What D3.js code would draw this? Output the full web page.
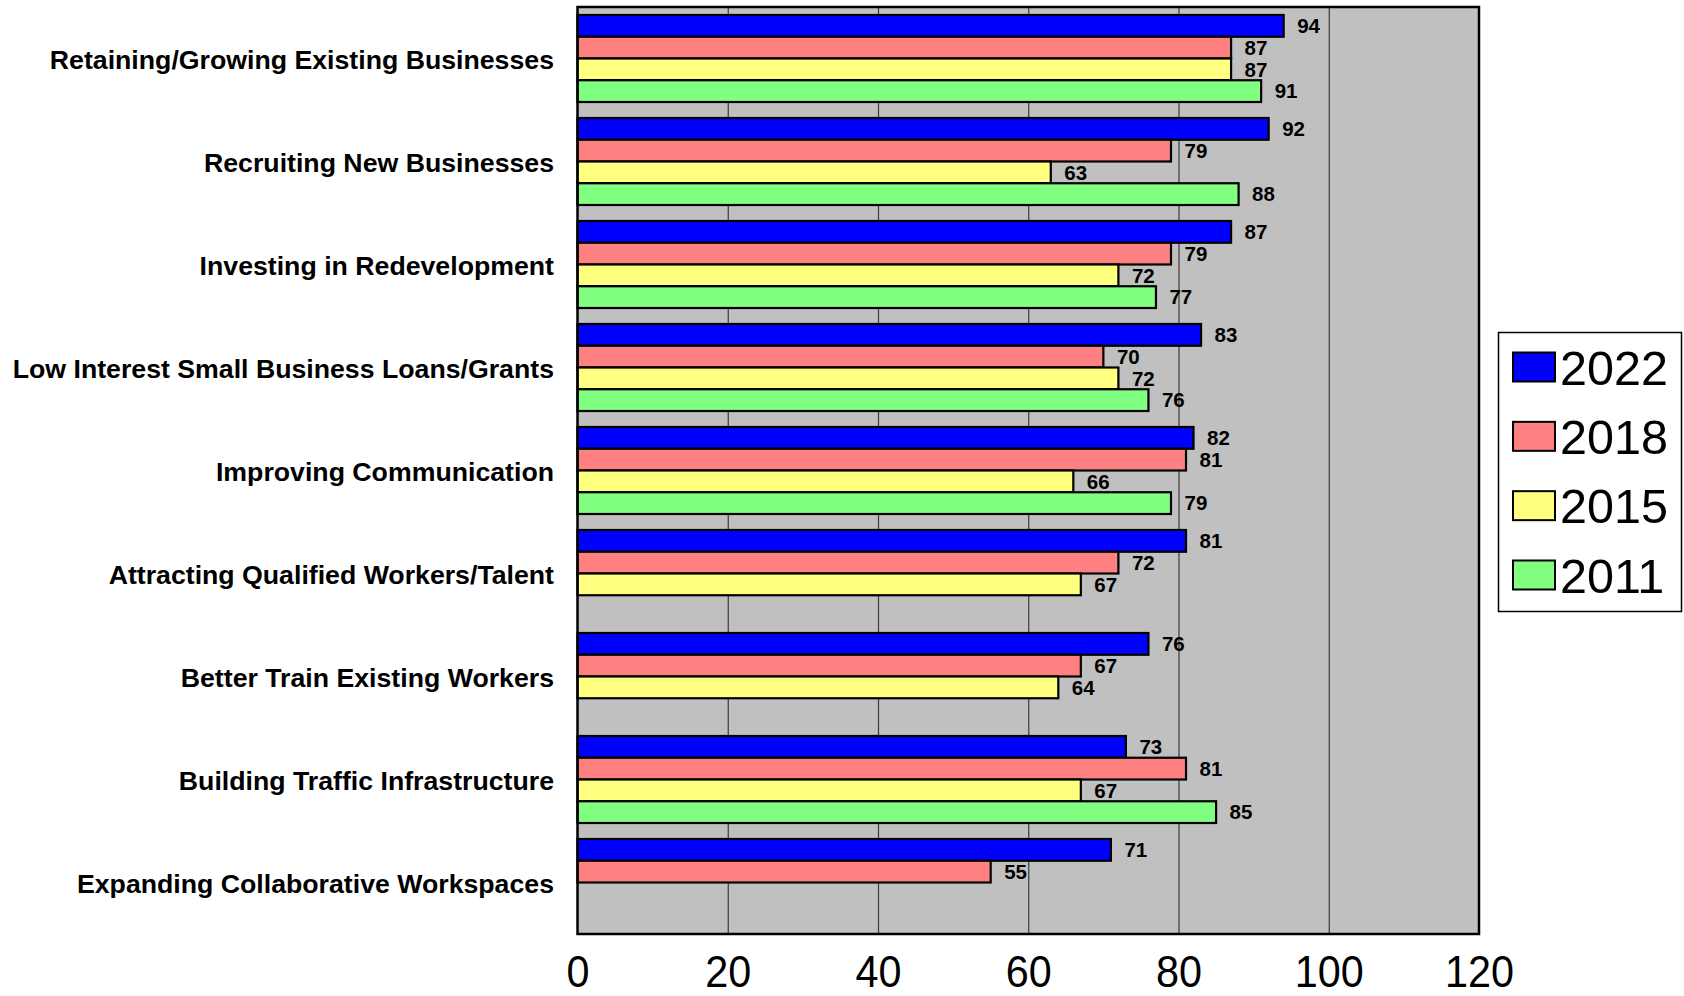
<!DOCTYPE html>
<html>
<head>
<meta charset="utf-8">
<script src="https://cdn.jsdelivr.net/npm/d3@7"></script>
<style>
  html, body { margin: 0; padding: 0; background: #fff; }
  svg { display: block; font-family: "Liberation Sans", Arial, sans-serif; }
</style>
</head>
<body>
<svg width="1684" height="996"></svg>
<script>
"use strict";
const categories = [
    "Retaining/Growing Existing Businesses",
    "Recruiting New Businesses",
    "Investing in Redevelopment",
    "Low Interest Small Business Loans/Grants",
    "Improving Communication",
    "Attracting Qualified Workers/Talent",
    "Better Train Existing Workers",
    "Building Traffic Infrastructure",
    "Expanding Collaborative Workspaces"
];
const years = ["2022", "2018", "2015", "2011"];
const values2022 = [94, 92, 87, 83, 82, 81, 76, 73, 71];
const values2018 = [87, 79, 79, 70, 81, 72, 67, 81, 55];
const values2015 = [87, 63, 72, 72, 66, 67, 64, 67, null];
const values2011 = [91, 88, 77, 76, 79, null, null, 85, null];
const xTicks = [0, 20, 40, 60, 80, 100, 120];
const colors = ["#0000FF", "#FF8080", "#FFFF80", "#80FF80"];

const seriesValues = [values2022, values2018, values2015, values2011];
const rows = [];
categories.forEach((c, i) => {
    years.forEach((yr, j) => {
        if (seriesValues[j][i] !== null) {
            rows.push({ category: c, year: yr, value: seriesValues[j][i] });
        }
    });
});

const svg = d3.select("svg");
const plot = { left: 577.5, right: 1479, top: 7, bottom: 934 };
const plotH = plot.bottom - plot.top;

const x = d3.scaleLinear()
    .domain([0, 120])
    .range([plot.left, plot.right]);
const y0 = d3.scaleBand()
    .domain(categories)
    .range([plot.top, plot.bottom]);
const y1 = d3.scaleBand()
    .domain(years)
    .range([8, y0.bandwidth() - 8]);
const color = d3.scaleOrdinal()
    .domain(years)
    .range(colors);

// plot background
svg.append("rect")
    .attr("x", plot.left)
    .attr("y", plot.top)
    .attr("width", plot.right - plot.left)
    .attr("height", plotH)
    .attr("fill", "#C0C0C0");

// vertical gridlines
svg.append("g")
    .attr("class", "grid")
    .attr("transform", `translate(0, ${plot.bottom})`)
    .call(d3.axisBottom(x)
        .tickValues(xTicks.slice(1, -1))
        .tickSize(-plotH)
        .tickFormat(""))
    .call(g => g.select(".domain").remove())
    .call(g => g.selectAll("line")
        .attr("stroke", "#3a3a3a")
        .attr("stroke-width", 1.2));

// bars
svg.append("g")
    .attr("class", "bars")
    .selectAll("rect")
    .data(rows)
    .enter()
    .append("rect")
    .attr("x", x(0))
    .attr("y", d => y0(d.category) + y1(d.year))
    .attr("width", d => x(d.value) - x(0))
    .attr("height", y1.bandwidth())
    .attr("fill", d => color(d.year))
    .attr("stroke", "#000")
    .attr("stroke-width", 2.2);

// value labels
svg.append("g")
    .attr("class", "values")
    .selectAll("text")
    .data(rows)
    .enter()
    .append("text")
    .attr("x", d => x(d.value) + 13.5)
    .attr("y", d => y0(d.category) + y1(d.year) + y1.bandwidth() / 2 + 7.2)
    .attr("font-size", 20.5)
    .attr("font-weight", "bold")
    .attr("fill", "#000")
    .text(d => d.value);

// plot border
svg.append("rect")
    .attr("x", plot.left)
    .attr("y", plot.top)
    .attr("width", plot.right - plot.left)
    .attr("height", plotH)
    .attr("fill", "none")
    .attr("stroke", "#000")
    .attr("stroke-width", 2.5);

// category labels
svg.append("g")
    .attr("class", "categories")
    .selectAll("text")
    .data(categories)
    .enter()
    .append("text")
    .attr("x", 554)
    .attr("y", d => y0(d) + y0.bandwidth() / 2 + 10)
    .attr("text-anchor", "end")
    .attr("font-size", 26.7)
    .attr("font-weight", "bold")
    .attr("fill", "#000")
    .text(d => d);

// x axis labels
svg.append("g")
    .attr("class", "x-axis")
    .attr("transform", `translate(0, ${plot.bottom})`)
    .call(d3.axisBottom(x)
        .tickValues(xTicks)
        .tickSize(0))
    .call(g => g.select(".domain").remove())
    .call(g => g.selectAll("text")
        .attr("y", 53)
        .attr("dy", null)
        .attr("font-size", 45)
        .attr("font-family", "'Liberation Sans', Arial, sans-serif")
        .attr("fill", "#000")
        .attr("transform", "scale(0.92,1)"));

// legend
const legend = svg.append("g")
    .attr("class", "legend");
legend.append("rect")
    .attr("x", 1498.5)
    .attr("y", 332.5)
    .attr("width", 183)
    .attr("height", 279)
    .attr("fill", "#fff")
    .attr("stroke", "#000")
    .attr("stroke-width", 1.5);
const legendY = d3.scalePoint()
    .domain(years)
    .range([367, 575]);
const item = legend.selectAll(".item")
    .data(years)
    .enter()
    .append("g")
    .attr("class", "item")
    .attr("transform", d => `translate(1513, ${legendY(d)})`);
item.append("rect")
    .attr("x", 0)
    .attr("y", -14.5)
    .attr("width", 42)
    .attr("height", 29)
    .attr("fill", d => color(d))
    .attr("stroke", "#000")
    .attr("stroke-width", 2);
item.append("text")
    .attr("x", 47)
    .attr("y", 17.5)
    .attr("font-size", 48.5)
    .attr("fill", "#000")
    .text(d => d);
</script>
</body>
</html>
